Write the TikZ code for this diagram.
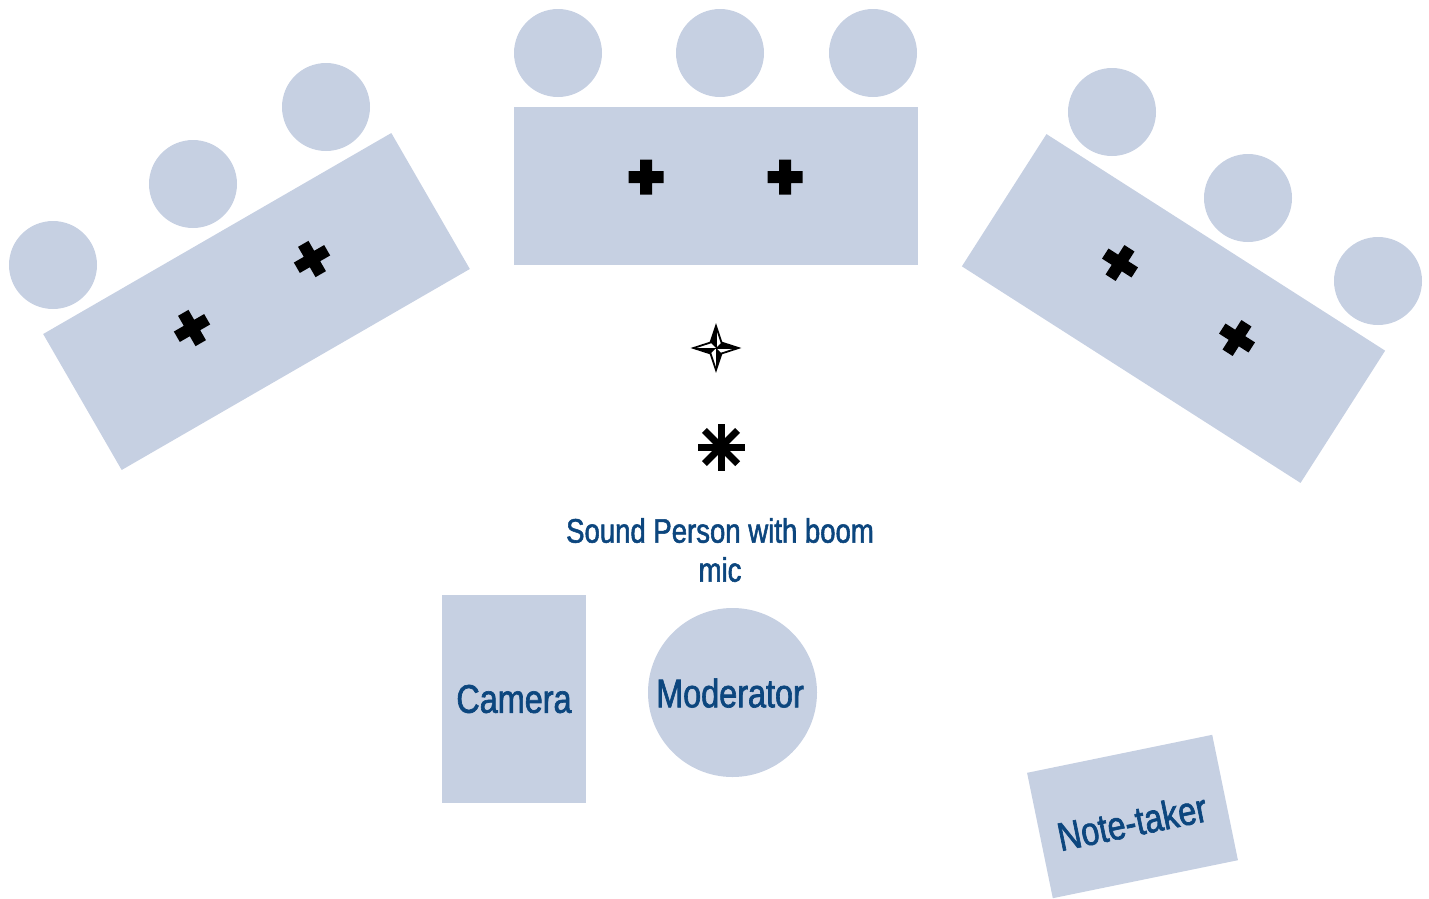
\documentclass[tikz,border=0pt]{standalone}
\usepackage{fontspec}
\setmainfont{Liberation Sans}[FakeStretch=0.81,FakeBold=1.6]
\definecolor{seat}{RGB}{198,208,226}
\definecolor{lbl}{RGB}{12,70,126}
\begin{document}
\begin{tikzpicture}[x=1pt,y=-1pt,
  tablebox/.style={rectangle,fill=seat,draw=none,inner sep=0pt,outer sep=0pt,minimum width=402pt,minimum height=157pt},
  seatc/.style={circle,fill=seat,draw=none,minimum size=88pt,inner sep=0pt},
  lbltext/.style={text=lbl,font=\fontsize{40}{46}\selectfont,inner sep=0pt},
  plusmark/.pic={\fill[black] (-17.5,-6) rectangle (17.5,6) (-6,-17.5) rectangle (6,17.5);}
]
\useasboundingbox (0,0) rectangle (1429,898);

% top table and seats
\node[tablebox,minimum width=404pt,minimum height=158pt] (ttab) at (716,186) {};
\node[seatc] (ts1) at (558,53) {};
\node[seatc] (ts2) at (720,53) {};
\node[seatc] (ts3) at (873,53) {};
\pic (tp1) at (646,177) {plusmark};
\pic (tp2) at (785,177) {plusmark};

% left table and seats
\node[tablebox,rotate=30] (ltab) at (256.5,301.5) {};
\node[seatc] (ls1) at (53,265) {};
\node[seatc] (ls2) at (193,184) {};
\node[seatc] (ls3) at (326,107) {};
\pic[rotate=30] (lp1) at (192,328) {plusmark};
\pic[rotate=30] (lp2) at (312,259) {plusmark};

% right table and seats
\node[tablebox,rotate=-32.6] (rtab) at (1173.5,308.5) {};
\node[seatc] (rs1) at (1112,112) {};
\node[seatc] (rs2) at (1248,198) {};
\node[seatc] (rs3) at (1378,281) {};
\pic[rotate=-32.6] (rp1) at (1120,263) {plusmark};
\pic[rotate=-32.6] (rp2) at (1237,338) {plusmark};

% compass star
\coordinate (cs) at (716,348);
\fill[black] (716,326) -- (710.5,342.5) -- (cs) -- cycle;
\fill[black] (738.5,348) -- (721.5,342.5) -- (cs) -- cycle;
\fill[black] (716,370) -- (721.5,353.5) -- (cs) -- cycle;
\fill[black] (693.5,348) -- (710.5,353.5) -- (cs) -- cycle;
\draw[line width=1.8pt,line join=miter] (716,326) -- (721.5,342.5) -- (738.5,348) -- (721.5,353.5) -- (716,370) -- (710.5,353.5) -- (693.5,348) -- (710.5,342.5) -- cycle;
\draw[line width=0.8pt] (716,326) -- (716,370) (693.5,348) -- (738.5,348);

% asterisk
\coordinate (ast) at (721,447);
\foreach \a in {0,45,90,135}
  \draw[line width=7pt] (ast) ++(\a:23.5) -- ++(\a+180:47);

% sound person label
\node[text=lbl,font=\fontsize{34}{39}\selectfont,align=center,inner sep=0pt] (sound) at (720,550) {Sound Person with boom\\mic};

% camera
\node[rectangle,fill=seat,inner sep=0pt,minimum width=144pt,minimum height=208pt] (cam) at (514,699) {};
\node[lbltext] (camt) at (514,699) {Camera};

% moderator
\node[seatc,minimum size=169pt] (mod) at (732.5,692.5) {};
\node[lbltext] (modt) at (730,693) {Moderator};

% note-taker
\node[rectangle,fill=seat,inner sep=0pt,minimum width=189pt,minimum height=128pt,rotate=11.6] (note) at (1132.5,816.5) {};
\node[lbltext,rotate=11.6] (notet) at (1132,822) {Note-taker};
\end{tikzpicture}
\end{document}
